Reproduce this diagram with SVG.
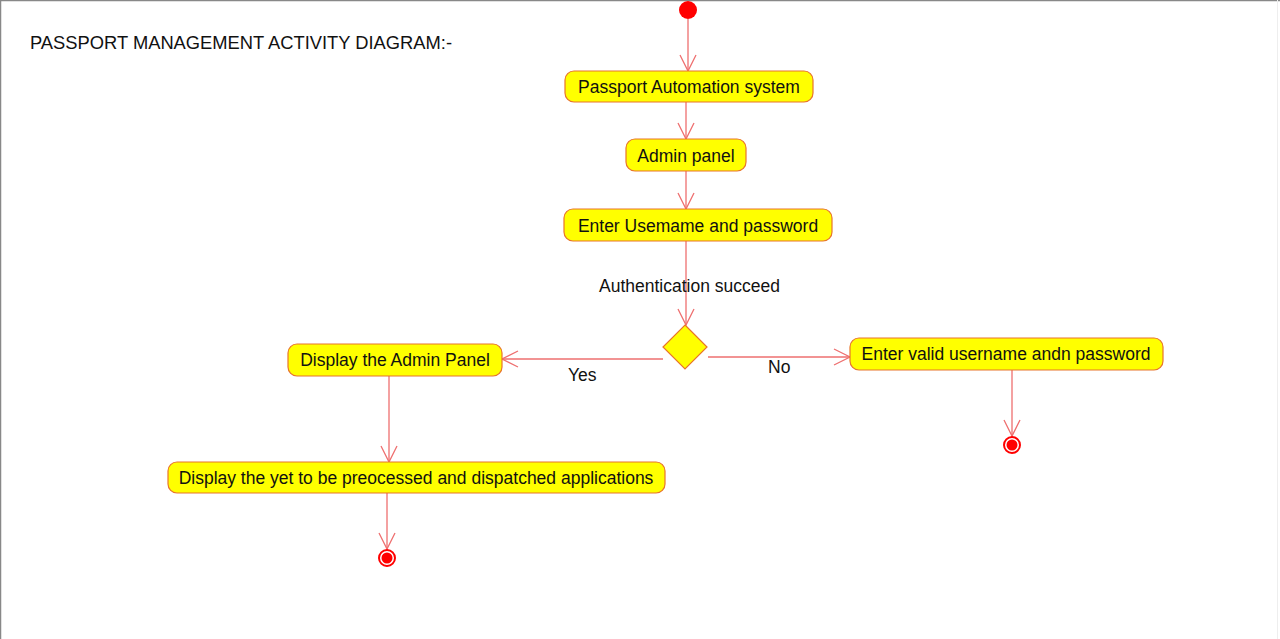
<svg xmlns="http://www.w3.org/2000/svg" width="1280" height="639" viewBox="0 0 1280 639">
<style>
.box{fill:#ffff00;stroke:#e8752a;stroke-width:1.2}
.t{font-family:"Liberation Sans",Arial,sans-serif;font-size:17.5px;fill:#111;text-anchor:middle}
.lbl{font-family:"Liberation Sans",Arial,sans-serif;font-size:17.5px;fill:#111}
.c{stroke:#ee6f6f;stroke-width:1.3;fill:none}
</style>
<defs>
<marker id="arr" viewBox="0 0 20 20" refX="18" refY="10" markerWidth="20" markerHeight="20" markerUnits="userSpaceOnUse" orient="auto">
<path d="M2,2 L18,10 L2,18" fill="none" stroke="#ee6f6f" stroke-width="1.3"/>
</marker>
</defs>
<rect x="0" y="0" width="1280" height="639" fill="#ffffff"/>
<line x1="0" y1="0.5" x2="1280" y2="0.5" stroke="#888" stroke-width="1.5"/>
<line x1="0.5" y1="0" x2="0.5" y2="639" stroke="#888" stroke-width="1.5"/>
<line x1="1277.5" y1="0" x2="1277.5" y2="639" stroke="#eee" stroke-width="1"/>
<text class="lbl" x="30" y="49" style="font-size:17.8px" textLength="422" lengthAdjust="spacingAndGlyphs">PASSPORT MANAGEMENT ACTIVITY DIAGRAM:-</text>
<g id="connectors">
<line class="c" x1="688" y1="19" x2="688" y2="71" marker-end="url(#arr)"/>
<line class="c" x1="686" y1="102" x2="686" y2="139" marker-end="url(#arr)"/>
<line class="c" x1="686" y1="171" x2="686" y2="209" marker-end="url(#arr)"/>
<line class="c" x1="686" y1="241" x2="686" y2="325" marker-end="url(#arr)"/>
<line class="c" x1="663" y1="359" x2="502" y2="359" marker-end="url(#arr)"/>
<line class="c" x1="708" y1="357" x2="850" y2="357" marker-end="url(#arr)"/>
<line class="c" x1="1012" y1="370" x2="1012" y2="436" marker-end="url(#arr)"/>
<line class="c" x1="389" y1="376" x2="389" y2="462" marker-end="url(#arr)"/>
<line class="c" x1="387" y1="493" x2="387" y2="549" marker-end="url(#arr)"/>
<text class="lbl" x="599" y="292">Authentication succeed</text>
<text class="lbl" x="568" y="381">Yes</text>
<text class="lbl" x="768" y="373">No</text>
</g>
<g id="start"><circle cx="688" cy="10" r="9" fill="#ff0000"/></g>
<g id="n1"><rect class="box" x="565" y="71" width="248" height="31" rx="9"/><text class="t" x="689" y="93">Passport Automation system</text></g>
<g id="n2"><rect class="box" x="626" y="139" width="120" height="32" rx="9"/><text class="t" x="686" y="162">Admin panel</text></g>
<g id="n3"><rect class="box" x="564" y="209" width="268" height="32" rx="9"/><text class="t" x="698" y="232">Enter Usemame and password</text></g>
<g id="decision"><polygon class="box" points="685,325 707,347 685,369 663,347"/></g>
<g id="n4"><rect class="box" x="850" y="338" width="313" height="32" rx="9"/><text class="t" x="1006" y="360">Enter valid username andn password</text></g>
<g id="n5"><rect class="box" x="288" y="344" width="214" height="32" rx="9"/><text class="t" x="395" y="366">Display the Admin Panel</text></g>
<g id="n6"><rect class="box" x="168" y="462" width="497" height="31" rx="9"/><text class="t" x="416" y="484">Display the yet to be preocessed and dispatched applications</text></g>
<g id="end1"><circle cx="1012" cy="445" r="8" fill="#fff" stroke="#ff0000" stroke-width="2"/><circle cx="1012" cy="445" r="5.5" fill="#ff0000"/></g>
<g id="end2"><circle cx="387" cy="558" r="8" fill="#fff" stroke="#ff0000" stroke-width="2"/><circle cx="387" cy="558" r="5.5" fill="#ff0000"/></g>
</svg>
